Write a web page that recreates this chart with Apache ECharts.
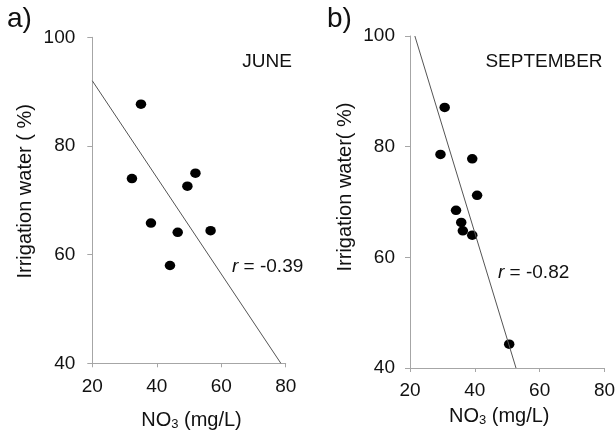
<!DOCTYPE html>
<html>
<head>
<meta charset="utf-8">
<script src="https://cdn.jsdelivr.net/npm/echarts@6/dist/echarts.min.js"></script>
<style>
html,body{margin:0;padding:0;background:#fff;}
#c{width:615px;height:433px;}
</style>
</head>
<body>
<div id="c"></div>
<script>
// Panel a) JUNE
const juneNO3 = [35.1, 32.3, 52.0, 49.5, 38.2, 46.5, 56.7, 44.1];
const juneWater = [87.7, 74.0, 75.0, 72.6, 65.8, 64.1, 64.4, 58.0];
const juneFitX = [20, 78.5];
const juneFitY = [92, 40];
// Panel b) SEPTEMBER
const sepNO3 = [30.7, 29.4, 39.2, 40.7, 34.2, 35.8, 36.3, 39.2, 50.6];
const sepWater = [87.1, 78.6, 77.8, 71.2, 68.5, 66.3, 64.8, 64.0, 44.3];
const sepFitX = [21.5, 52.7];
const sepFitY = [100, 40];
// Axis ticks
const xTicks = [20, 40, 60, 80];
const yTicks = [40, 60, 80, 100];
const panelLabels = ['a)', 'b)'];
const monthLabels = ['JUNE', 'SEPTEMBER'];
const rLabels = ['-0.39', '-0.82'];
const xName = 'NO{sub|3} (mg/L)';
const yNames = ['Irrigation water ( %)', 'Irrigation water( %)'];

const FONT = '"Liberation Sans", Arial, sans-serif';
const TXT = '#111';
const AX = '#a6a6a6';

function pairs(xs, ys){ return xs.map((x,i)=>[x, ys[i]]); }

function xAxis(idx, gap, labelMargin, pad){
  return {
    type:'value', gridIndex:idx, min:xTicks[0], max:xTicks[xTicks.length-1], interval:20,
    axisLine:{show:true, onZero:false, lineStyle:{color:AX, width:1}},
    axisTick:{show:true, length:4, lineStyle:{color:AX}},
    splitLine:{show:false},
    axisLabel:{color:TXT, fontSize:19, fontFamily:FONT, margin:labelMargin},
    name:xName, nameLocation:'middle', nameGap:gap,
    nameTextStyle:{color:TXT, fontSize:20, fontFamily:FONT, padding:pad,
      rich:{sub:{fontSize:13, fontFamily:FONT, color:TXT, verticalAlign:'bottom', padding:[8,0,0,0]}}}
  };
}
function yAxis(idx, name, gap, labelMargin, pad){
  return {
    type:'value', gridIndex:idx, min:yTicks[0], max:yTicks[yTicks.length-1], interval:20,
    axisLine:{show:true, onZero:false, lineStyle:{color:AX, width:1}},
    axisTick:{show:true, length:5, lineStyle:{color:AX}},
    splitLine:{show:false},
    axisLabel:{color:TXT, fontSize:19, fontFamily:FONT, margin:labelMargin},
    name:name, nameLocation:'middle', nameGap:gap,
    nameTextStyle:{color:TXT, fontSize:20, fontFamily:FONT, padding:pad}
  };
}

const chart = echarts.init(document.getElementById('c'), null, {renderer:'canvas'});
chart.setOption({
  backgroundColor:'#fff',
  animation:false,
  grid:[
    {left:92.3, top:37.3, width:193.4, height:326, containLabel:false, outerBoundsMode:'none'},
    {left:410, top:36, width:194.5, height:332, containLabel:false, outerBoundsMode:'none'}
  ],
  xAxis:[ xAxis(0, 47, 14, [0,0,0,5]), xAxis(1, 38, 13, [0,16,0,0]) ],
  yAxis:[ yAxis(0, yNames[0], 57, 17, [0,0,0,18]), yAxis(1, yNames[1], 55, 15, [0,0,0,30]) ],
  series:[
    {type:'line', xAxisIndex:0, yAxisIndex:0, data:pairs(juneFitX, juneFitY), symbol:'none',
      lineStyle:{color:'#555', width:1}, silent:true, clip:false},
    {type:'scatter', xAxisIndex:0, yAxisIndex:0, data:pairs(juneNO3, juneWater), symbol:'circle',
      symbolSize:[10.5,9.5], itemStyle:{color:'#000', opacity:1}},
    {type:'line', xAxisIndex:1, yAxisIndex:1, data:pairs(sepFitX, sepFitY), symbol:'none',
      lineStyle:{color:'#555', width:1}, silent:true, clip:false},
    {type:'scatter', xAxisIndex:1, yAxisIndex:1, data:pairs(sepNO3, sepWater), symbol:'circle',
      symbolSize:[10.5,9.5], itemStyle:{color:'#000', opacity:1}}
  ],
  graphic:[
    {type:'text', left:7, top:5, style:{text:panelLabels[0], font:'28px '+FONT, fill:TXT}},
    {type:'text', left:327, top:5, style:{text:panelLabels[1], font:'28px '+FONT, fill:TXT}},
    {type:'text', x:267, y:62, style:{text:monthLabels[0], font:'19px '+FONT, fill:TXT, align:'center', verticalAlign:'middle'}},
    {type:'text', x:544, y:62, style:{text:monthLabels[1], font:'19px '+FONT, fill:TXT, align:'center', verticalAlign:'middle'}},
    {type:'text', x:232, y:267, style:{text:'{i|r} = '+rLabels[0], font:'19px '+FONT, fill:TXT, verticalAlign:'middle',
      rich:{i:{fontStyle:'italic', fontSize:19, fontFamily:FONT, fill:TXT}}}},
    {type:'text', x:498, y:273, style:{text:'{i|r} = '+rLabels[1], font:'19px '+FONT, fill:TXT, verticalAlign:'middle',
      rich:{i:{fontStyle:'italic', fontSize:19, fontFamily:FONT, fill:TXT}}}}
  ]
});
</script>
</body>
</html>
